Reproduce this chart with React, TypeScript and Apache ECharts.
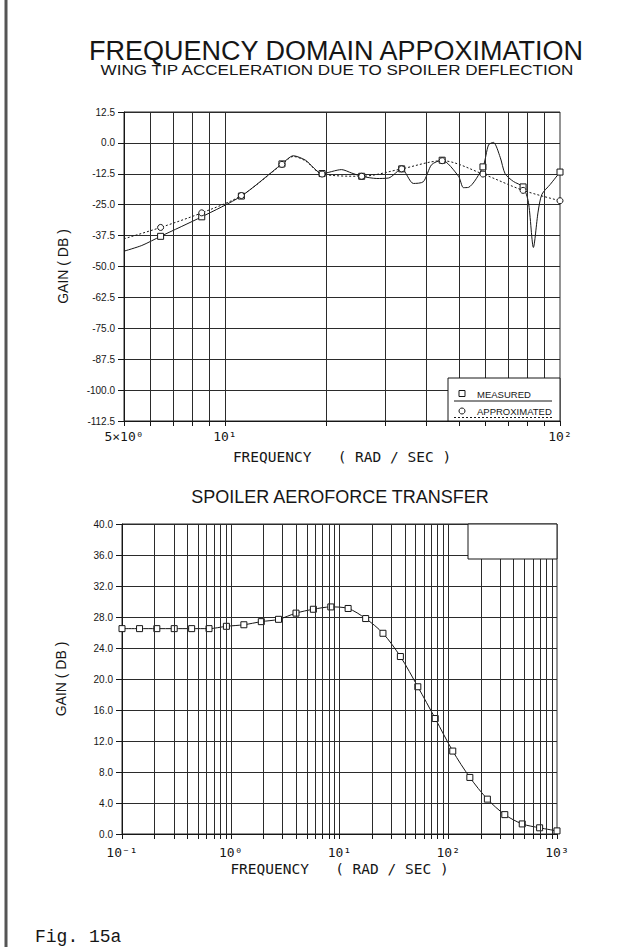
import React, { useEffect, useRef } from "react";
import * as echarts from "echarts";

// ---------- data ----------
// Upper chart: wing tip acceleration due to spoiler deflection
const topGridFreqs = [6, 7, 8, 9, 10, 20, 30, 40, 50, 60, 70, 80, 90];
const topTickFreqs = [5, 6, 7, 8, 9, 10, 20, 30, 40, 50, 60, 70, 80, 90, 100];
const topLabelFreqs = [5, 10, 100];
const topLabelTexts = ["5×10⁰", "10¹", "10²"];
const topGainMin = -112.5;
const topGainMax = 12.5;
const topGainStep = 12.5;

// [frequency rad/s, gain dB, marker(1) or not(0)]
const measured: number[][] = [
  [5.0, -43.8, 0], [5.65, -41.5, 0], [6.43, -37.8, 1], [8.53, -29.9, 1],
  [11.2, -21.5, 1], [14.8, -8.5, 1], [16.0, -5.2, 0], [17.4, -7.0, 0],
  [19.5, -12.4, 1], [22.3, -10.8, 0], [23.9, -12.2, 0], [25.6, -13.5, 1],
  [28.4, -14.4, 0], [30.8, -14.2, 0], [33.7, -10.5, 1], [36.5, -16.4, 0],
  [39.1, -15.7, 0], [41.4, -8.8, 0], [44.5, -7.0, 1], [49.8, -13.5, 0],
  [51.5, -18.1, 0], [53.3, -18.0, 0], [58.9, -9.7, 1], [61.2, -0.8, 0],
  [63.3, 0.2, 0], [66.3, -5.8, 0], [68.6, -12.5, 0], [72.6, -15.6, 0],
  [77.6, -17.8, 1], [80.5, -24.0, 0], [83.3, -42.3, 0], [86.0, -28.0, 0],
  [88.3, -20.8, 0], [93.5, -16.8, 0], [100, -11.8, 1],
];
const approximated: number[][] = [
  [5.0, -38.8, 0], [6.43, -34.2, 1], [8.53, -28.3, 1], [11.2, -21.3, 1],
  [14.8, -8.7, 1], [16.0, -5.5, 0], [17.4, -7.3, 0], [19.5, -12.6, 1],
  [25.6, -13.5, 1], [33.7, -10.5, 1], [44.5, -7.2, 1], [58.9, -12.6, 1],
  [77.6, -19.2, 1], [100, -23.4, 1],
];

// Lower chart: spoiler aeroforce transfer
const aeroGridFreqs = [
  0.2, 0.3, 0.4, 0.5, 0.6, 0.7, 0.8, 0.9, 1,
  2, 3, 4, 5, 6, 7, 8, 9, 10,
  20, 30, 40, 50, 60, 70, 80, 90, 100,
  200, 300, 400, 500, 600, 700, 800, 900,
];
const aeroTickFreqs = [0.1, ...aeroGridFreqs, 1000];
const aeroLabelFreqs = [0.1, 1, 10, 100, 1000];
const aeroLabelTexts = ["10⁻¹", "10⁰", "10¹", "10²", "10³"];
const aeroFreqs = [
  0.1, 0.145, 0.209, 0.302, 0.437, 0.631, 0.912, 1.32, 1.91, 2.75, 3.98, 5.75, 8.32,
  12.0, 17.4, 25.1, 36.3, 52.5, 75.9, 110, 158, 229, 331, 479, 692, 1000,
];
const aeroGain = [
  26.5, 26.5, 26.5, 26.5, 26.5, 26.5, 26.8, 27.0, 27.4, 27.7, 28.5, 29.0, 29.3,
  29.1, 27.8, 25.9, 22.9, 19.0, 14.9, 10.7, 7.3, 4.5, 2.5, 1.3, 0.8, 0.4,
];
const aeroGainMin = 0;
const aeroGainMax = 40;
const aeroGainStep = 4;

// ---------- layout / style ----------
const W = 629;
const H = 947;
const INK = "#161616";
const GRIDC = "#2b2b2b";
const SANS = "'Liberation Sans', Arial, sans-serif";
const MONO = "'DejaVu Sans Mono', monospace";
const G1 = { left: 124, top: 112, width: 436, height: 309 };
const G2 = { left: 122, top: 524, width: 435, height: 310 };

function labelFor(values: number[], texts: string[]) {
  return (v: number) => {
    const i = values.findIndex((x) => Math.abs(x - v) / x < 1e-6);
    return i >= 0 ? texts[i] : "";
  };
}

function gridLines(freqs: number[]) {
  return {
    silent: true,
    symbol: ["none", "none"],
    label: { show: false },
    emphasis: { disabled: true },
    lineStyle: { color: GRIDC, width: 1, type: "solid" },
    data: freqs.map((f) => ({ xAxis: f })),
  };
}

function xAxisFor(
  gridIndex: number, min: number, max: number, ticks: number[],
  labels: number[], texts: string[], labelMargin: number, nameGap: number
) {
  return {
    gridIndex,
    type: "log",
    logBase: 10,
    min,
    max,
    axisLine: { show: true, onZero: false, lineStyle: { color: INK, width: 1 } },
    axisTick: { show: true, length: 5, customValues: ticks, lineStyle: { color: INK } },
    axisLabel: {
      customValues: labels,
      formatter: labelFor(labels, texts),
      fontFamily: MONO,
      fontSize: 13,
      color: INK,
      margin: labelMargin,
      showMinLabel: true,
      showMaxLabel: true,
      hideOverlap: false,
    },
    splitLine: { show: false },
    minorTick: { show: false },
    name: "FREQUENCY   ( RAD / SEC )",
    nameLocation: "middle",
    nameGap,
    nameTextStyle: { fontFamily: MONO, fontSize: 14.5, color: INK },
  };
}

function yAxisFor(gridIndex: number, min: number, max: number, step: number) {
  return {
    gridIndex,
    type: "value",
    min,
    max,
    interval: step,
    axisLine: { show: true, onZero: false, lineStyle: { color: INK, width: 1 } },
    axisTick: { show: true, length: 6, lineStyle: { color: INK } },
    axisLabel: {
      formatter: (v: number) => v.toFixed(1),
      fontFamily: SANS,
      fontSize: 10,
      color: INK,
      margin: 9,
    },
    splitLine: { show: true, lineStyle: { color: GRIDC, width: 1 } },
    name: "GAIN ( DB )",
    nameLocation: "middle",
    nameGap: 54,
    nameTextStyle: { fontFamily: SANS, fontSize: 14, color: INK },
  };
}

function markerData(rows: number[][], symbol: string) {
  return rows.map(([f, g, m]) => ({ value: [f, g], symbol: m ? symbol : "none" }));
}

const legendBox = { x: 448, y: 378, w: G1.left + G1.width - 448, h: G1.top + G1.height - 378 };
const blankBox = { x: 468, y: G2.top, w: G2.left + G2.width - 468, h: 35 };

const option: any = {
  animation: false,
  backgroundColor: "#ffffff",
  grid: [
    { ...G1, show: true, borderColor: GRIDC, borderWidth: 1, backgroundColor: "transparent" },
    { ...G2, show: true, borderColor: GRIDC, borderWidth: 1, backgroundColor: "transparent" },
  ],
  xAxis: [
    xAxisFor(0, 5, 100, topTickFreqs, topLabelFreqs, topLabelTexts, 9, 28),
    xAxisFor(1, 0.1, 1000, aeroTickFreqs, aeroLabelFreqs, aeroLabelTexts, 12, 27),
  ],
  yAxis: [
    yAxisFor(0, topGainMin, topGainMax, topGainStep),
    yAxisFor(1, aeroGainMin, aeroGainMax, aeroGainStep),
  ],
  series: [
    {
      name: "MEASURED",
      type: "line",
      xAxisIndex: 0,
      yAxisIndex: 0,
      data: markerData(measured, "rect"),
      symbolSize: 6,
      smooth: 0.25,
      itemStyle: { color: "#fff", borderColor: INK, borderWidth: 1 },
      lineStyle: { color: INK, width: 1 },
      markLine: gridLines(topGridFreqs),
      z: 3,
    },
    {
      name: "APPROXIMATED",
      type: "line",
      xAxisIndex: 0,
      yAxisIndex: 0,
      data: markerData(approximated, "circle"),
      symbolSize: 6,
      smooth: 0.3,
      itemStyle: { color: "#fff", borderColor: INK, borderWidth: 1 },
      lineStyle: { color: INK, width: 1, type: [2, 2] },
      z: 3,
    },
    {
      name: "SPOILER AEROFORCE",
      type: "line",
      xAxisIndex: 1,
      yAxisIndex: 1,
      data: aeroFreqs.map((f, i) => [f, aeroGain[i]]),
      symbol: "rect",
      symbolSize: 6,
      smooth: 0.3,
      itemStyle: { color: "#fff", borderColor: INK, borderWidth: 1 },
      lineStyle: { color: INK, width: 1 },
      markLine: gridLines(aeroGridFreqs),
      z: 3,
    },
  ],
  graphic: [
    // page frame
    { type: "line", z: 50, shape: { x1: 6, y1: 0, x2: 6, y2: H }, style: { stroke: "#555", lineWidth: 3 } },
    // titles
    {
      type: "text", z: 50, x: 336, y: 50.5,
      style: { text: "FREQUENCY DOMAIN APPOXIMATION", fill: INK, font: `27px ${SANS}`, textAlign: "center", textVerticalAlign: "middle" },
    },
    {
      type: "text", z: 50, x: 337, y: 70, scaleX: 1.22,
      style: { text: "WING TIP ACCELERATION DUE TO SPOILER DEFLECTION", fill: INK, font: `14px ${SANS}`, textAlign: "center", textVerticalAlign: "middle" },
    },
    {
      type: "text", z: 50, x: 340, y: 496.5,
      style: { text: "SPOILER AEROFORCE TRANSFER", fill: INK, font: `18px ${SANS}`, textAlign: "center", textVerticalAlign: "middle" },
    },
    // legend of upper chart
    {
      type: "rect", z: 60,
      shape: { x: legendBox.x, y: legendBox.y, width: legendBox.w, height: legendBox.h },
      style: { fill: "#fff", stroke: INK, lineWidth: 1 },
    },
    { type: "rect", z: 61, shape: { x: 459, y: 390.5, width: 6, height: 6 }, style: { fill: "#fff", stroke: INK, lineWidth: 1 } },
    {
      type: "text", z: 61, x: 477, y: 394,
      style: { text: "MEASURED", fill: INK, font: `9.5px ${SANS}`, textAlign: "left", textVerticalAlign: "middle" },
    },
    { type: "line", z: 61, shape: { x1: 454, y1: 401, x2: 552, y2: 401 }, style: { stroke: INK, lineWidth: 1 } },
    { type: "circle", z: 61, shape: { cx: 462, cy: 411, r: 3 }, style: { fill: "#fff", stroke: INK, lineWidth: 1 } },
    {
      type: "text", z: 61, x: 477, y: 411,
      style: { text: "APPROXIMATED", fill: INK, font: `9.5px ${SANS}`, textAlign: "left", textVerticalAlign: "middle" },
    },
    { type: "line", z: 61, shape: { x1: 454, y1: 417.5, x2: 552, y2: 417.5 }, style: { stroke: INK, lineWidth: 1, lineDash: [2, 2] } },
    // empty box of lower chart
    {
      type: "rect", z: 60,
      shape: { x: blankBox.x, y: blankBox.y, width: blankBox.w, height: blankBox.h },
      style: { fill: "#fff", stroke: INK, lineWidth: 1 },
    },
    // figure caption
    {
      type: "text", z: 50, x: 35, y: 937,
      style: { text: "Fig. 15a", fill: INK, font: `18px 'Liberation Mono', 'Courier New', monospace`, textAlign: "left", textVerticalAlign: "middle" },
    },
  ],
};

export default function App() {
  const ref = useRef<HTMLDivElement>(null);
  useEffect(() => {
    if (!ref.current) return;
    const chart = echarts.init(ref.current, null, { renderer: "svg" });
    chart.setOption(option);
    return () => chart.dispose();
  }, []);
  return (
    <div
      ref={ref}
      style={{ position: "absolute", left: 0, top: 0, width: W, height: H, background: "#fff" }}
    />
  );
}
